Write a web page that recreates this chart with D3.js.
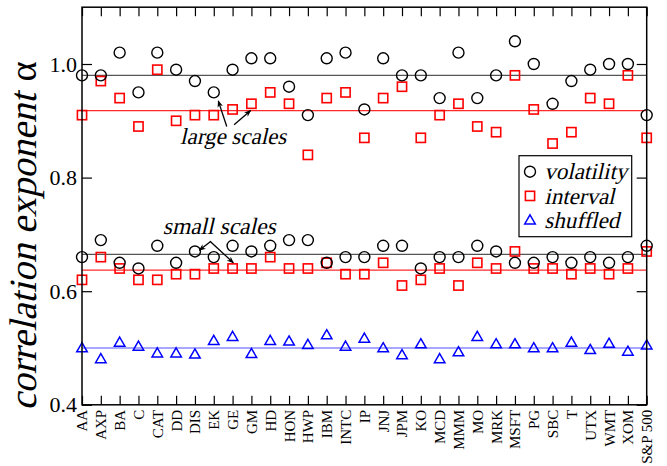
<!DOCTYPE html>
<html>
<head>
<meta charset="utf-8">
<script src="https://cdn.jsdelivr.net/npm/d3@7"></script>
</head>
<body style="margin:0;padding:0;background:#fff">
<svg id="chart" width="667" height="466" style="display:block"></svg>
<script>
// Stocks (plus the index) on the horizontal axis
const tickers = ["AA","AXP","BA","C","CAT","DD","DIS","EK","GE","GM","HD","HON","HWP","IBM","INTC",
  "IP","JNJ","JPM","KO","MCD","MMM","MO","MRK","MSFT","PG","SBC","T","UTX","WMT","XOM","S&P 500"];

// Correlation exponents at large scales
const volatilityLarge = [0.98,0.98,1.02,0.95,1.02,0.99,0.97,0.95,0.99,1.01,1.01,0.96,0.91,1.01,1.02,
  0.92,1.01,0.98,0.98,0.94,1.02,0.94,0.98,1.04,1.00,0.93,0.97,0.99,1.00,1.00,0.91];
const intervalLarge = [0.91,0.97,0.94,0.89,0.99,0.90,0.91,0.91,0.92,0.93,0.95,0.93,0.84,0.94,0.95,
  0.87,0.94,0.96,0.87,0.91,0.93,0.89,0.88,0.98,0.92,0.86,0.88,0.94,0.93,0.98,0.87];

// Correlation exponents at small scales
const volatilitySmall = [0.66,0.69,0.65,0.64,0.68,0.65,0.67,0.66,0.68,0.67,0.68,0.69,0.69,0.65,0.66,
  0.66,0.68,0.68,0.64,0.66,0.66,0.68,0.67,0.65,0.65,0.66,0.65,0.66,0.65,0.66,0.68];
const intervalSmall = [0.62,0.66,0.64,0.62,0.62,0.63,0.63,0.64,0.64,0.64,0.66,0.64,0.64,0.65,0.63,
  0.63,0.65,0.61,0.62,0.64,0.61,0.65,0.64,0.67,0.64,0.64,0.63,0.64,0.63,0.64,0.67];
const shuffled = [0.500,0.481,0.510,0.503,0.491,0.491,0.489,0.513,0.520,0.490,0.513,0.512,0.506,0.523,0.503,
  0.517,0.500,0.488,0.507,0.481,0.493,0.520,0.507,0.507,0.500,0.500,0.510,0.497,0.508,0.494,0.505];

// Average levels drawn as horizontal guide lines
const meanVolLarge = 0.980, meanIntLarge = 0.918;
const meanVolSmall = 0.665, meanIntSmall = 0.637;
const meanShuffled = 0.500;

const yTicks = [0.4, 0.6, 0.8, 1.0];
const yDomain = [0.4, 1.1];

const svg = d3.select("#chart");
const W = 667, H = 466;
const margin = { left: 82, right: 20.3, top: 7.2, bottom: 61.2 };
const SERIF = "'Liberation Serif', 'Times New Roman', serif";
const SLANT = "skewX(-13)";   // italic look for the serif face

const x = d3.scalePoint().domain(d3.range(tickers.length))
  .range([margin.left, W - margin.right]).padding(0);
const y = d3.scaleLinear().domain(yDomain).range([H - margin.bottom, margin.top]);

const BLACK = "#000", RED = "#ff0000", BLUE = "#0000ff";

// Guide lines
const guides = [
  { v: meanVolLarge, c: "#555" }, { v: meanIntLarge, c: "#ff2a2a" },
  { v: meanVolSmall, c: "#555" }, { v: meanIntSmall, c: "#ff2a2a" },
  { v: meanShuffled, c: "#5050ff" }
];
svg.append("g").selectAll("line").data(guides).join("line")
  .attr("x1", x.range()[0]).attr("x2", x.range()[1])
  .attr("y1", d => y(d.v)).attr("y2", d => y(d.v))
  .attr("stroke", d => d.c).attr("stroke-width", 1.2);

// Marker helpers
const circ = (g, data, color) => g.selectAll(null).data(data).join("circle")
  .attr("cx", (d, i) => x(i)).attr("cy", d => y(d)).attr("r", 5.5)
  .attr("fill", "none").attr("stroke", color).attr("stroke-width", 1.4);
const sq = (g, data, color) => g.selectAll(null).data(data).join("rect")
  .attr("x", (d, i) => x(i) - 4.6).attr("y", d => y(d) - 4.6)
  .attr("width", 9.2).attr("height", 9.2)
  .attr("fill", "none").attr("stroke", color).attr("stroke-width", 1.6);
const triPath = d3.symbol().type(d3.symbolTriangle).size(48);
const tri = (g, data, color) => g.selectAll(null).data(data).join("path")
  .attr("d", triPath)
  .attr("transform", (d, i) => `translate(${x(i)},${y(d) + 0.8})`)
  .attr("fill", "none").attr("stroke", color).attr("stroke-width", 1.5);

const marks = svg.append("g");
sq(marks.append("g"), intervalLarge, RED);
circ(marks.append("g"), volatilityLarge, BLACK);
sq(marks.append("g"), intervalSmall, RED);
circ(marks.append("g"), volatilitySmall, BLACK);
tri(marks.append("g"), shuffled, BLUE);

// Frame
const x0 = x.range()[0], x1 = x.range()[1], yb = y(yDomain[0]), yt = y(yDomain[1]);
svg.append("rect").attr("x", x0).attr("y", yt).attr("width", x1 - x0).attr("height", yb - yt)
  .attr("fill", "none").attr("stroke", BLACK).attr("stroke-width", 1.5);

// X ticks (bottom and top, pointing inward)
const xAxisB = d3.axisBottom(x).tickSizeInner(-9).tickSizeOuter(0).tickFormat(i => tickers[i]);
const gxb = svg.append("g").attr("transform", `translate(0,${yb})`).call(xAxisB);
gxb.select(".domain").remove();
gxb.selectAll(".tick line").attr("stroke", BLACK).attr("stroke-width", 1.2);
gxb.selectAll(".tick text")
  .attr("transform", "rotate(-90)")
  .attr("x", -5).attr("y", 0).attr("dy", "0.33em")
  .attr("text-anchor", "end")
  .attr("font-size", 15).attr("fill", BLACK)
  .style("font-family", SERIF);

const xAxisT = d3.axisTop(x).tickSizeInner(-9).tickSizeOuter(0).tickFormat("");
const gxt = svg.append("g").attr("transform", `translate(0,${yt})`).call(xAxisT);
gxt.select(".domain").remove();
gxt.selectAll(".tick line").attr("stroke", BLACK).attr("stroke-width", 1.2);

// Y ticks (left labelled, right plain)
const yAxisL = d3.axisLeft(y).tickValues(yTicks).tickSizeInner(-10).tickSizeOuter(0)
  .tickFormat(d3.format(".1f")).tickPadding(5);
const gyl = svg.append("g").attr("transform", `translate(${x0},0)`).call(yAxisL);
gyl.select(".domain").remove();
gyl.selectAll(".tick line").attr("stroke", BLACK).attr("stroke-width", 1.2);
gyl.selectAll(".tick text").attr("x", -5).attr("font-size", 22).attr("fill", BLACK)
  .style("font-family", SERIF);

const yAxisR = d3.axisRight(y).tickValues(yTicks).tickSizeInner(-10).tickSizeOuter(0).tickFormat("");
const gyr = svg.append("g").attr("transform", `translate(${x1},0)`).call(yAxisR);
gyr.select(".domain").remove();
gyr.selectAll(".tick line").attr("stroke", BLACK).attr("stroke-width", 1.2);

// Y title: slanted words followed by an upright alpha
const titleSize = 38.5;
const titleG = svg.append("g").attr("transform", `translate(36,236) rotate(-90)`);
const tWords = titleG.append("text").attr("font-size", titleSize).attr("transform", SLANT)
  .style("font-family", SERIF).text("correlation exponent");
const tAlpha = titleG.append("text").attr("font-size", titleSize)
  .style("font-family", SERIF).text("α");
const wWords = tWords.node().getComputedTextLength();
const wAlpha = tAlpha.node().getComputedTextLength();
const gap = titleSize * 0.3;
const start = -(wWords + gap + wAlpha) / 2;
tWords.attr("x", start);
tAlpha.attr("x", start + wWords + gap);

// Annotations: labels and arrows placed in data coordinates
const defs = svg.append("defs");
defs.append("marker").attr("id", "head").attr("viewBox", "0 0 10 10")
  .attr("refX", 9).attr("refY", 5).attr("markerWidth", 7).attr("markerHeight", 7)
  .attr("markerUnits", "userSpaceOnUse").attr("orient", "auto")
  .append("path").attr("d", "M0,1 L10,5 L0,9 L3,5 Z").attr("fill", BLACK);

const notes = [
  { text: "large scales", at: [5.21, 0.860], size: 23 },
  { text: "small scales", at: [4.29, 0.700], size: 23.5 }
];
const arrows = [
  { from: [7.69, 0.890], to: [7.24, 0.935] },
  { from: [8.08, 0.893], to: [8.96, 0.918] },
  { from: [6.85, 0.688], to: [6.23, 0.672] },
  { from: [6.80, 0.688], to: [8.04, 0.650] }
];
const xi = v => x0 + (x1 - x0) * v / (tickers.length - 1);
svg.append("g").selectAll("text").data(notes).join("text")
  .attr("transform", d => `translate(${xi(d.at[0])},${y(d.at[1])}) ${SLANT}`)
  .attr("font-size", d => d.size).style("font-family", SERIF).text(d => d.text);
svg.append("g").selectAll("line").data(arrows).join("line")
  .attr("x1", d => xi(d.from[0])).attr("y1", d => y(d.from[1]))
  .attr("x2", d => xi(d.to[0])).attr("y2", d => y(d.to[1]))
  .attr("stroke", BLACK).attr("stroke-width", 1.3).attr("marker-end", "url(#head)");

// Legend
const legend = svg.append("g");
legend.append("rect").attr("x", 519).attr("y", 155.7).attr("width", 112.7).attr("height", 81)
  .attr("fill", "#fff").attr("stroke", BLACK).attr("stroke-width", 1.2);
const items = [
  { label: "volatility", kind: "circle", color: BLACK },
  { label: "interval", kind: "square", color: RED },
  { label: "shuffled", kind: "triangle", color: BLUE }
];
items.forEach((it, k) => {
  const cy = 171.7 + k * 24.2, cx = 530;
  if (it.kind === "circle") {
    legend.append("circle").attr("cx", cx).attr("cy", cy).attr("r", 5.5)
      .attr("fill", "none").attr("stroke", it.color).attr("stroke-width", 1.4);
  } else if (it.kind === "square") {
    legend.append("rect").attr("x", cx - 4.6).attr("y", cy - 4.6).attr("width", 9.2).attr("height", 9.2)
      .attr("fill", "none").attr("stroke", it.color).attr("stroke-width", 1.6);
  } else {
    legend.append("path").attr("d", triPath).attr("transform", `translate(${cx},${cy + 0.8})`)
      .attr("fill", "none").attr("stroke", it.color).attr("stroke-width", 1.5);
  }
  legend.append("text").attr("transform", `translate(546,${cy}) ${SLANT}`).attr("dy", "0.33em")
    .attr("font-size", 23).style("font-family", SERIF).text(it.label);
});
</script>
</body>
</html>
